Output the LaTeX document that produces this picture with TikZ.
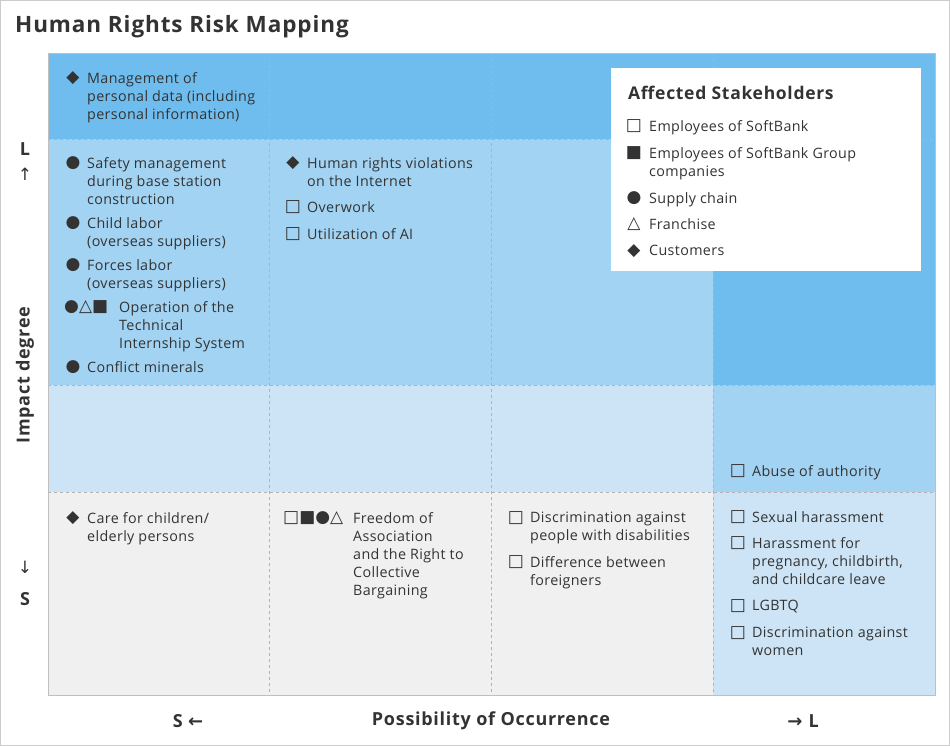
\documentclass[tikz,border=0pt]{standalone}
\usepackage{fontspec}
\setmainfont[LetterSpace=2.5]{Open Sans}
\newfontfamily\symf{DejaVu Sans}
\newfontfamily\ttlf[LetterSpace=4]{Open Sans}
\begin{document}
\begin{tikzpicture}[x=1pt,y=-1pt,
 it/.style={anchor=north west,align=left,inner sep=0pt,font=\fontsize{14.3}{18}\selectfont,text=black!80},
 sy/.style={anchor=center,inner sep=0pt,font=\symf\fontsize{17}{17}\selectfont,text=black!80},
 ax/.style={inner sep=0pt,font=\ttlf\bfseries\fontsize{18}{20}\selectfont,text=black!80},
 dl/.style={draw=black!30,dashed,line width=0.6pt}]
\definecolor{c1}{HTML}{6FBDEE}
\definecolor{c2}{HTML}{A3D3F3}
\definecolor{c3}{HTML}{CCE4F5}
\definecolor{c4}{HTML}{F0F0F0}
\useasboundingbox (0,0) rectangle (950,746);
\draw[black!20,fill=white] (0.5,0.5) rectangle (949.5,745.5);
\node[anchor=west,inner sep=0pt,font=\ttlf\bfseries\fontsize{22.5}{24}\selectfont,text=black!80] (title) at (15,27) {Human Rights Risk Mapping};
% cells
\fill[c1] (48,53) rectangle (935,139);
\fill[c2] (48,139) rectangle (713,385);
\fill[c1] (713,139) rectangle (935,385);
\fill[c3] (48,385) rectangle (713,492);
\fill[c2] (713,385) rectangle (935,492);
\fill[c4] (48,492) rectangle (713,695);
\fill[c3] (713,492) rectangle (935,695);
\foreach \x in {269,491,713} \draw[dl] (\x,53) -- (\x,695);
\foreach \y in {139,385,492} \draw[dl] (48,\y) -- (935,\y);
\draw[black!25] (48,53) rectangle (935,695);
% legend
\fill[white] (611,68) rectangle (921,271);
\node[anchor=west,inner sep=0pt,font=\ttlf\bfseries\fontsize{17.5}{20}\selectfont,text=black!80] (lt) at (628,93) {Affected Stakeholders};
\node[sy] (l1) at (634,126) {□}; \node[it] (t1) at (649,120) {Employees of SoftBank};
\node[sy] (l2) at (634,153) {■}; \node[it] (t2) at (649,147) {Employees of SoftBank Group\\companies};
\node[sy] (l3) at (634,198) {●}; \node[it] (t3) at (649,192) {Supply chain};
\node[sy] (l4) at (634,224) {△}; \node[it] (t4) at (649,218) {Franchise};
\node[sy] (l5) at (634,251) {◆}; \node[it] (t5) at (649,245) {Customers};
% col1
\node[sy] (s1) at (73,78) {◆}; \node[it] (a1) at (87,72) {Management of\\personal data (including\\personal information)};
\node[sy] (s2) at (73,163) {●}; \node[it] (a2) at (87,157) {Safety management\\during base station\\construction};
\node[sy] (s3) at (73,223) {●}; \node[it] (a3) at (87,217) {Child labor\\(overseas suppliers)};
\node[sy] (s4) at (73,265) {●}; \node[it] (a4) at (87,259) {Forces labor\\(overseas suppliers)};
\node[sy,anchor=west] (s5) at (64,307) {●△■}; \node[it] (a5) at (119,301) {Operation of the\\Technical\\Internship System};
\node[sy] (s6) at (73,367) {●}; \node[it] (a6) at (87,361) {Conflict minerals};
% col2
\node[sy] (b1s) at (293,163) {◆}; \node[it] (b1) at (307,157) {Human rights violations\\on the Internet};
\node[sy] (b2s) at (293,207) {□}; \node[it] (b2) at (307,201) {Overwork};
\node[sy] (b3s) at (293,234) {□}; \node[it] (b3) at (307,228) {Utilization of AI};
% row3
\node[sy] (c1s) at (738,471) {□}; \node[it] (c1t) at (752,465) {Abuse of authority};
% row4
\node[sy] (d1s) at (73,518) {◆}; \node[it] (d1) at (87,512) {Care for children/\\elderly persons};
\node[sy,anchor=west] (d2s) at (283,518) {□■●△}; \node[it] (d2) at (353,512) {Freedom of\\Association\\and the Right to\\Collective\\Bargaining};
\node[sy] (d3s) at (516,518) {□}; \node[it] (d3) at (530,512) {Discrimination against\\people with disabilities};
\node[sy] (d4s) at (516,562) {□}; \node[it] (d4) at (530,556) {Difference between\\foreigners};
\node[sy] (e1s) at (738,517) {□}; \node[it] (e1) at (752,511) {Sexual harassment};
\node[sy] (e2s) at (738,543) {□}; \node[it] (e2) at (752,537) {Harassment for\\pregnancy, childbirth,\\and childcare leave};
\node[sy] (e3s) at (738,606) {□}; \node[it] (e3) at (752,600) {LGBTQ};
\node[sy] (e4s) at (738,633) {□}; \node[it] (e4) at (752,627) {Discrimination against\\women};
% axes
\node[ax] (yl) at (25,149) {L};
\node[sy] (yu) at (25,174) {↑};
\node[ax,rotate=90] (yt) at (25,375) {Impact degree};
\node[sy] (yd) at (25,567) {↓};
\node[ax] (ys) at (25,599) {S};
\node[ax] (xs) at (188,721) {S \symf←};
\node[ax] (xt) at (491,721) {Possibility of Occurrence};
\node[ax] (xl) at (803,721) {\symf→ \ttlf\bfseries L};
\end{tikzpicture}
\end{document}
